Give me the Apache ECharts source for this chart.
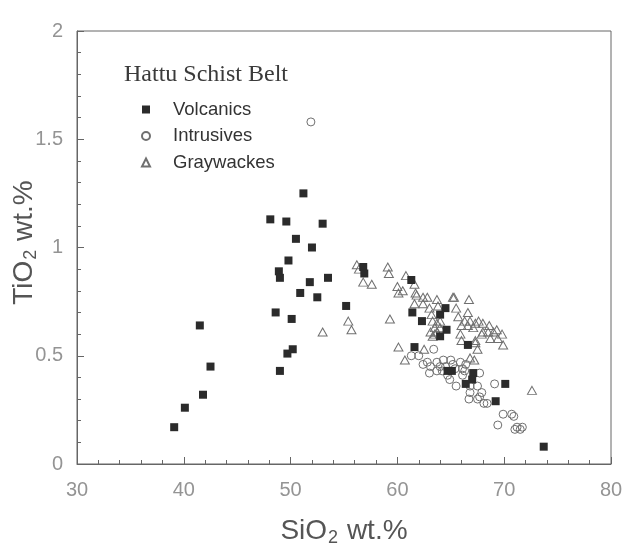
<!DOCTYPE html>
<html>
<head>
<meta charset="utf-8">
<script src="https://cdn.jsdelivr.net/npm/echarts@6/dist/echarts.min.js"></script>
<style>
  html, body { margin: 0; padding: 0; background: #fff; }
  #chart { width: 628px; height: 548px; }
</style>
</head>
<body>
<div id="chart"></div>
<script>
// SiO2 vs TiO2 (wt.%) for the Hattu Schist Belt rock suites
const seriesNames = ['Volcanics', 'Intrusives', 'Graywackes'];

const volcanics = [
  [39.1, 0.17], [40.1, 0.26], [41.5, 0.64], [41.8, 0.32], [42.5, 0.45],
  [48.1, 1.13], [48.6, 0.70], [48.9, 0.89], [49.0, 0.86], [49.0, 0.43],
  [49.6, 1.12], [49.7, 0.51], [49.8, 0.94], [50.1, 0.67], [50.2, 0.53],
  [50.5, 1.04], [50.9, 0.79], [51.2, 1.25], [51.8, 0.84], [52.0, 1.00],
  [52.5, 0.77], [53.0, 1.11], [53.5, 0.86], [55.2, 0.73], [56.8, 0.91],
  [56.9, 0.88], [61.3, 0.85], [61.4, 0.70], [61.6, 0.54], [62.3, 0.66],
  [64.0, 0.69], [64.5, 0.72], [64.6, 0.62], [64.0, 0.59], [64.7, 0.43],
  [65.1, 0.43], [66.6, 0.55], [67.1, 0.42], [67.0, 0.39], [66.4, 0.37],
  [70.1, 0.37], [69.2, 0.29], [73.7, 0.08]
];

const intrusives = [
  [51.9, 1.58], [61.3, 0.50], [62.0, 0.50], [63.4, 0.53], [62.8, 0.47],
  [63.1, 0.45], [63.7, 0.47], [64.3, 0.48], [65.0, 0.48], [65.9, 0.47],
  [66.4, 0.46], [63.7, 0.43], [64.2, 0.43], [64.5, 0.45], [65.4, 0.44],
  [66.1, 0.44], [67.7, 0.42], [64.7, 0.41], [66.1, 0.41], [65.5, 0.36],
  [66.8, 0.36], [67.5, 0.36], [69.1, 0.37], [67.9, 0.33], [66.8, 0.33],
  [66.7, 0.30], [67.7, 0.31], [67.5, 0.30], [68.1, 0.28], [68.4, 0.28],
  [69.9, 0.23], [70.7, 0.23], [70.9, 0.22], [69.4, 0.18], [71.2, 0.17],
  [71.7, 0.17], [71.5, 0.16], [71.0, 0.16], [62.4, 0.46], [64.0, 0.45],
  [65.2, 0.46], [63.0, 0.42], [66.3, 0.43], [64.9, 0.39]
];

const graywackes = [
  [53.0, 0.61], [55.4, 0.66], [55.7, 0.62], [56.2, 0.92], [56.4, 0.90],
  [56.8, 0.84], [57.6, 0.83], [59.1, 0.91], [59.2, 0.88], [59.3, 0.67],
  [60.8, 0.87], [60.0, 0.82], [60.5, 0.80], [60.1, 0.79], [60.7, 0.48],
  [60.1, 0.54], [61.6, 0.83], [61.7, 0.79], [61.8, 0.78], [62.4, 0.77],
  [62.8, 0.77], [61.6, 0.74], [62.4, 0.74], [63.0, 0.72], [63.7, 0.76],
  [63.8, 0.73], [63.2, 0.69], [62.5, 0.53], [63.3, 0.66], [63.7, 0.65],
  [64.0, 0.66], [63.5, 0.63], [64.0, 0.63], [63.1, 0.61], [63.7, 0.61],
  [63.3, 0.59], [63.5, 0.60], [65.2, 0.77], [65.3, 0.77], [66.7, 0.76],
  [65.5, 0.72], [66.6, 0.70], [65.7, 0.68], [66.3, 0.66], [66.8, 0.66],
  [67.3, 0.65], [67.6, 0.66], [68.0, 0.65], [68.6, 0.64], [66.0, 0.64],
  [66.6, 0.64], [67.1, 0.63], [68.0, 0.61], [68.5, 0.61], [69.0, 0.61],
  [69.3, 0.62], [69.8, 0.60], [68.7, 0.58], [69.4, 0.58], [65.9, 0.60],
  [66.0, 0.57], [67.3, 0.57], [67.3, 0.56], [67.5, 0.53], [69.9, 0.55],
  [66.8, 0.49], [67.2, 0.48], [72.6, 0.34], [67.9, 0.60]
];

const xTicks = { min: 30, max: 80, interval: 10 };
const yTicks = { min: 0, max: 2, interval: 0.5 };

const axisColor = '#666';
const labelColor = '#949494';
const nameRich = {
  n: { fontSize: 28, lineHeight: 30, color: '#555', fontFamily: 'Liberation Sans', verticalAlign: 'top' },
  s: { fontSize: 18, lineHeight: 18, color: '#555', fontFamily: 'Liberation Sans', verticalAlign: 'bottom', padding: [18, 1, 0, 1] }
};

const chart = echarts.init(document.getElementById('chart'), null, { renderer: 'canvas' });

chart.setOption({
  backgroundColor: '#fff',
  animation: false,
  title: {
    text: 'Hattu Schist Belt',
    left: 124,
    top: 63,
    padding: 0,
    textStyle: { fontFamily: 'Liberation Serif', fontSize: 24, fontWeight: 'normal', color: '#3a3a3a' }
  },
  legend: {
    orient: 'vertical',
    left: 141,
    top: 100,
    padding: 0,
    itemWidth: 8,
    itemHeight: 8,
    itemGap: 7.5,
    data: seriesNames,
    textStyle: { fontFamily: 'Liberation Sans', fontSize: 18.5, color: '#333', padding: [0, 0, 0, 18] }
  },
  grid: {
    left: 77, right: 17, top: 31, bottom: 84,
    containLabel: false,
    outerBoundsMode: 'none',
    show: true, borderColor: axisColor, borderWidth: 1, backgroundColor: 'transparent'
  },
  xAxis: {
    type: 'value',
    min: xTicks.min, max: xTicks.max, interval: xTicks.interval,
    name: '{n|SiO}{s|2}{n| wt.%}',
    nameLocation: 'middle',
    nameGap: 53,
    nameMoveOverlap: false,
    nameTextStyle: { rich: nameRich },
    axisLine: { show: true, lineStyle: { color: axisColor, width: 1 } },
    axisTick: { show: true, inside: true, length: 7, lineStyle: { color: axisColor } },
    minorTick: { show: true, splitNumber: 5, length: 4, lineStyle: { color: axisColor } },
    splitLine: { show: false },
    axisLabel: { fontFamily: 'Liberation Sans', fontSize: 20, color: labelColor, margin: 16 }
  },
  yAxis: {
    type: 'value',
    min: yTicks.min, max: yTicks.max, interval: yTicks.interval,
    name: '{n|TiO}{s|2}{n| wt.%}',
    nameLocation: 'middle',
    nameGap: 37,
    nameMoveOverlap: false,
    nameTextStyle: { rich: nameRich, padding: [0, 0, 0, 10] },
    axisLine: { show: true, lineStyle: { color: axisColor, width: 1 } },
    axisTick: { show: true, inside: true, length: 7, lineStyle: { color: axisColor } },
    minorTick: { show: true, splitNumber: 5, length: 4, lineStyle: { color: axisColor } },
    splitLine: { show: false },
    axisLabel: { fontFamily: 'Liberation Sans', fontSize: 20, color: labelColor, margin: 14 }
  },
  series: [
    {
      name: seriesNames[0],
      type: 'scatter',
      data: volcanics,
      symbol: 'rect',
      symbolSize: 8,
      z: 3,
      itemStyle: { color: '#2b2b2b', borderColor: '#2b2b2b', borderWidth: 0, opacity: 1 }
    },
    {
      name: seriesNames[1],
      type: 'scatter',
      data: intrusives,
      symbol: 'circle',
      symbolSize: 8,
      z: 2,
      itemStyle: { color: 'rgba(255,255,255,0)', borderColor: '#707070', borderWidth: 1, opacity: 1 }
    },
    {
      name: seriesNames[2],
      type: 'scatter',
      data: graywackes,
      symbol: 'triangle',
      symbolSize: [9, 8],
      z: 2,
      itemStyle: { color: 'rgba(255,255,255,0)', borderColor: '#707070', borderWidth: 1, opacity: 1 }
    }
  ]
});
</script>
</body>
</html>
